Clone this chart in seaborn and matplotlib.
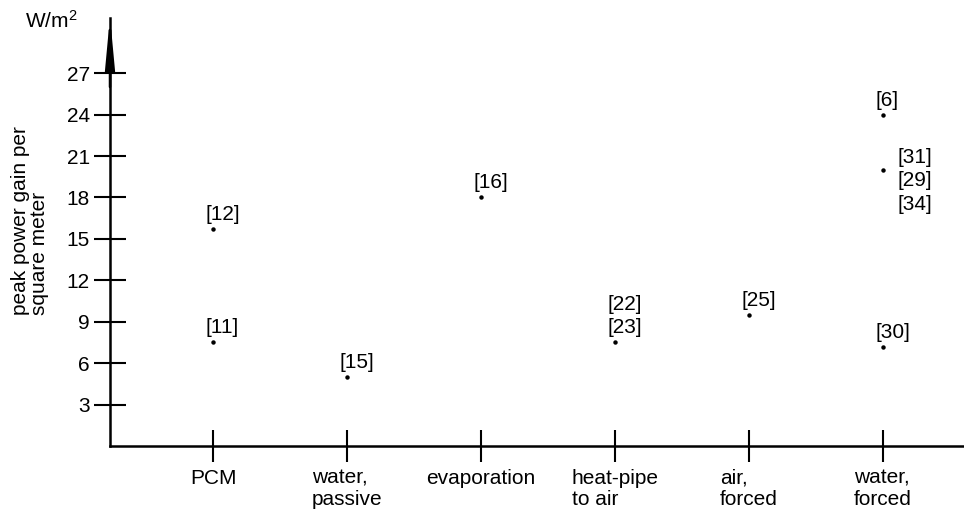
import matplotlib
matplotlib.use("Agg")
import matplotlib.pyplot as plt
import seaborn as sns
import pandas as pd

# cooling technique on the x axis
categories = ["PCM", "water,\npassive", "evaporation", "heat-pipe\nto air",
              "air,\nforced", "water,\nforced"]

# one row per reported point
point_cat = ["PCM", "PCM", "water,\npassive", "evaporation", "heat-pipe\nto air",
             "air,\nforced", "water,\nforced", "water,\nforced", "water,\nforced"]
point_val = [15.7, 7.5, 5.0, 18.0, 7.5, 9.5, 24.0, 20.0, 7.2]
point_ref = ["[12]", "[11]", "[15]", "[16]", "[22]\n[23]", "[25]", "[6]",
             "[31]\n[29]\n[34]", "[30]"]

y_ticks = [3, 6, 9, 12, 15, 18, 21, 24, 27]

df = pd.DataFrame({"cat": point_cat, "val": point_val, "ref": point_ref})

sns.set_style("ticks")
plt.rcParams["font.family"] = ["Liberation Sans", "DejaVu Sans"]
plt.rcParams["mathtext.default"] = "regular"
plt.rcParams["text.color"] = "black"

fig = plt.figure(figsize=(9.64, 5.14), dpi=100)
ax = fig.add_axes([0.1141, 0.1323, 0.8859, 0.8327])

sns.stripplot(data=df, x="cat", y="val", order=categories, jitter=False,
              color="black", size=3.2, linewidth=0, ax=ax)

# label placement in pixels relative to the dot
for i, row in df.iterrows():
    xi = categories.index(row["cat"])
    if row["ref"].startswith("[31]"):
        ax.annotate(row["ref"], xy=(xi, row["val"]), xytext=(14, 22),
                    textcoords="offset pixels", ha="left", va="top",
                    fontsize=15, linespacing=1.3, color="black")
    else:
        ax.annotate(row["ref"], xy=(xi, row["val"]), xytext=(-8, 5),
                    textcoords="offset pixels", ha="left", va="bottom",
                    fontsize=15, linespacing=1.3, color="black")

ax.set_xlim(-0.769, 5.604)
ax.set_ylim(0, 31)
ax.set_yticks(y_ticks)
ax.set_yticklabels([str(t) for t in y_ticks])

for s in ["top", "right"]:
    ax.spines[s].set_visible(False)
for s in ["left", "bottom"]:
    ax.spines[s].set_linewidth(1.8)
    ax.spines[s].set_color("black")

ax.tick_params(axis="both", direction="inout", length=23, width=1.5,
               labelsize=15, colors="black")
ax.tick_params(axis="y", pad=3)
ax.tick_params(axis="x", pad=5)
for lbl in ax.get_xticklabels():
    lbl.set_multialignment("left")
    lbl.set_linespacing(1.15)

ax.set_xlabel("")
ax.set_ylabel("")

# arrow head on the y axis
ax.annotate("", xy=(-0.769, 31.1), xytext=(-0.769, 26),
            arrowprops=dict(arrowstyle="-|>,head_length=3.0,head_width=0.28",
                            color="black", lw=1.8, shrinkA=0, shrinkB=0),
            annotation_clip=False)

fig.text(30 / 964, 1 - 221 / 514, "peak power gain per\nsquare meter",
         rotation=90, ha="center", va="center", fontsize=15, linespacing=1.0,
         multialignment="left", color="black")
fig.text(25 / 964, 1 - 28 / 514, r"W/m$^2$", ha="left", va="baseline",
         fontsize=15, color="black")

fig.savefig("out.png", dpi=100)
